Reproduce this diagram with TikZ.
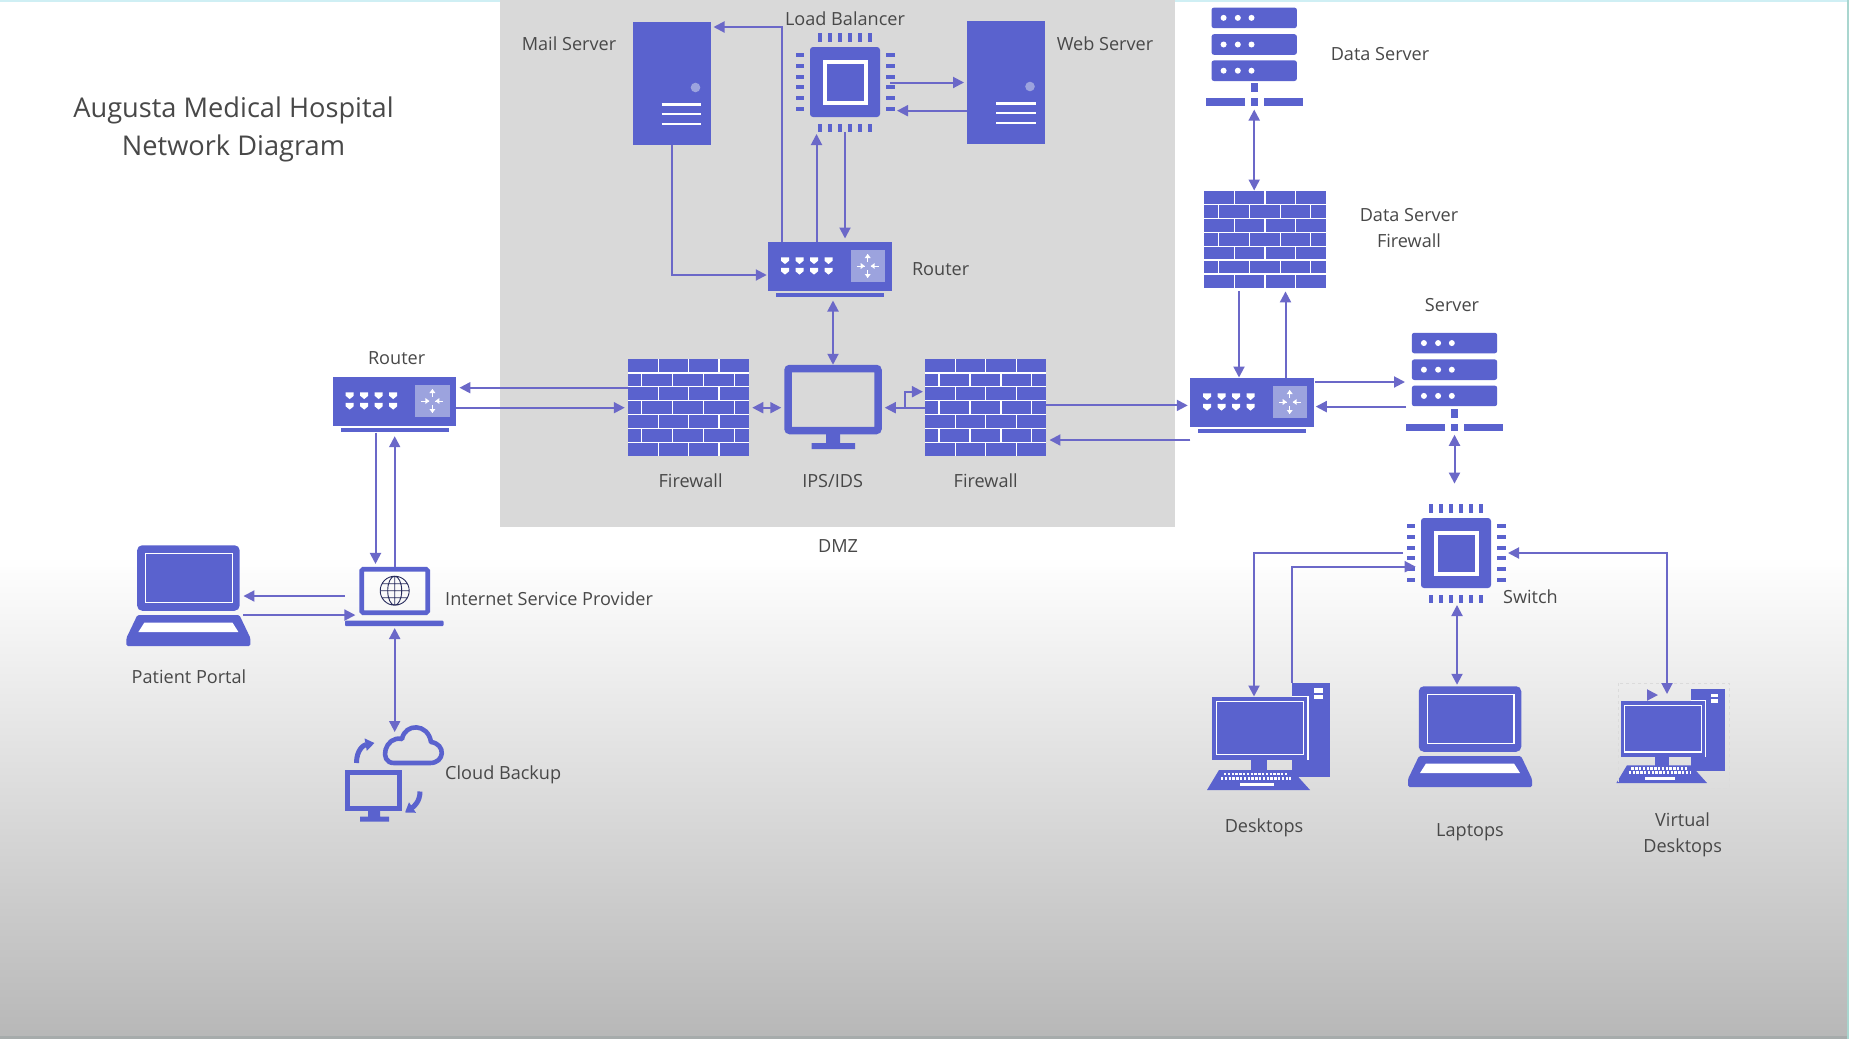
\documentclass[tikz,border=0pt]{standalone}
\usepackage{fontspec}
\setmainfont{Open Sans}
\usetikzlibrary{arrows.meta}
\definecolor{iconblue}{HTML}{5A62CE}
\definecolor{linkblue}{HTML}{6B68C8}
\definecolor{panelblue}{HTML}{9CA3DE}
\definecolor{dmzgrey}{HTML}{D9D9D9}
\definecolor{labelgrey}{HTML}{484848}
\definecolor{edgeblue}{HTML}{CFEFF4}
\definecolor{edgeteal}{HTML}{A9D6CF}
\definecolor{footgrey}{HTML}{A6ABAB}
\tikzset{
  x=1pt,y=-1pt,
  iconbox/.style={fill=iconblue,draw=none,inner sep=0pt,outer sep=0pt},
  ghostbox/.style={draw=none,fill=none,inner sep=0pt,outer sep=0pt},
  lbl/.style={text=labelgrey,inner sep=0pt,align=center,font=\fontsize{18.1}{25.5}\selectfont},
  titlelbl/.style={text=labelgrey,inner sep=0pt,align=center,font=\fontsize{27.2}{37.5}\selectfont},
  link/.style={draw=linkblue,line width=2pt,-{Triangle[length=11pt,width=11pt]}},
  linkboth/.style={draw=linkblue,line width=2pt,{Triangle[length=11pt,width=11pt]}-{Triangle[length=11pt,width=11pt]}},
  thinwhite/.style={draw=white,line width=1.2pt},
}
\newcommand\towerserver[3]{%
  \node[iconbox,minimum width=78pt,minimum height=123pt] (#1) at (#2,#3) {};
  \begin{scope}[shift={(#2,#3)}]
    \fill[panelblue] (24,4) circle (4.8);
    \foreach \yy in {21,30.5,40.5} \draw[draw=white,line width=2.6pt] (-10,\yy) -- (29.5,\yy);
  \end{scope}}
\newcommand\firewallicon[3]{%
  \node[iconbox,minimum width=121.5pt,minimum height=97.4pt] (#1) at (#2,#3) {};
  \begin{scope}[shift={(#2,#3)}]
    \foreach \i in {1,...,6} \draw[thinwhite] (-60.75,{-48.7+\i*13.91}) -- (60.75,{-48.7+\i*13.91});
    \foreach \i in {0,2,4,6} \foreach \xx in {-30.4,0,30.4}
      \draw[thinwhite] (\xx,{-48.7+\i*13.91}) -- (\xx,{-48.7+(\i+1)*13.91});
    \foreach \i in {1,3,5} \foreach \xx in {-46.8,-15.8,15.2,45.6}
      \draw[thinwhite] (\xx,{-48.7+\i*13.91}) -- (\xx,{-48.7+(\i+1)*13.91});
  \end{scope}}
\newcommand\routericon[3]{%
  \node[iconbox,minimum width=123.5pt,minimum height=49pt] (#1) at (#2,#3) {};
  \begin{scope}[shift={(#2,#3)}]
    \fill[iconblue] (-54,27) rectangle (54,31);
    \fill[panelblue] (20.5,-16) rectangle (55,16);
    \foreach \xx in {-45,-30.5,-16,-1.5} \foreach \yy in {-5.5,5}
      \fill[white] (\xx-4,\yy-3.2) -- (\xx+4,\yy-3.2) -- (\xx+4,\yy+.3) -- (\xx,\yy+3.6) -- (\xx-4,\yy+.3) -- cycle;
    \begin{scope}[shift={(37.7,0)}]
      \draw[white,line width=.9pt] (-3,0) -- (-11,0) (3,0) -- (11,0) (0,-4) -- (0,-12) (0,4) -- (0,12);
      \fill[white] (-3,0) -- (-7,-3) -- (-7,3) -- cycle (3,0) -- (7,-3) -- (7,3) -- cycle
        (0,-12) -- (-3,-8) -- (3,-8) -- cycle (0,12) -- (-3,8) -- (3,8) -- cycle;
    \end{scope}
  \end{scope}}
\newcommand\chipicon[3]{%
  \node[iconbox,minimum width=70pt,minimum height=70pt,rounded corners=3pt] (#1) at (#2,#3) {};
  \begin{scope}[shift={(#2,#3)}]
    \draw[draw=white,line width=4pt] (-20.5,-20.5) rectangle (20.5,20.5);
    \foreach \p in {-25,-15,-5,5,15,25} {
      \fill[iconblue] (\p-2,-49) rectangle (\p+2,-40);
      \fill[iconblue] (\p-2,42) rectangle (\p+2,50);
      \fill[iconblue] (-49,\p*1.08-2) rectangle (-41,\p*1.08+2);
      \fill[iconblue] (41,\p*1.08-2) rectangle (49.5,\p*1.08+2);
    }
  \end{scope}}
\newcommand\rackicon[3]{%
  \node[ghostbox,minimum width=97pt,minimum height=98.5pt] (#1) at (#2,#3) {};
  \begin{scope}[shift={(#2,#3)}]
    \foreach \yy in {-49.25,-22.6,3.6} {
      \fill[iconblue,rounded corners=2.5pt] (-42.7,\yy) rectangle (42.7,\yy+20.6);
      \foreach \xx in {-30.6,-16.4,-2.7} \fill[white] (\xx,\yy+10.3) circle (3);
    }
    \fill[iconblue] (-3.5,26.5) rectangle (3.5,35.5);
    \fill[iconblue] (-48.5,41.5) rectangle (-9.7,49.25);
    \fill[iconblue] (9.7,41.5) rectangle (48.5,49.25);
    \fill[iconblue] (-3.5,41.5) rectangle (3.5,49.25);
  \end{scope}}
\newcommand\laptopicon[3]{%
  \node[iconbox,minimum width=102.5pt,minimum height=65.5pt,rounded corners=5pt] (#1) at (#2,#3) {};
  \begin{scope}[shift={(#2,#3)}]
    \draw[thinwhite] (-42.7,-24.6) rectangle (44,24.6);
    \fill[iconblue,rounded corners=1.5pt] (-51,37) -- (51,37) -- (62,60) -- (62,68) -- (-62,68) -- (-62,60) -- cycle;
    \fill[white] (-44,44.5) -- (44,44.5) -- (50,54) -- (-50,54) -- cycle;
  \end{scope}}
\newcommand\desktopicon[6]{%
  \begin{scope}[shift={(#3,#4)},scale=#5,transform shape]
    \node[iconbox,minimum width=38.4pt,minimum height=94pt] (#2) at (50.8,1.4) {};
    \fill[white] (54,-40) rectangle (63,-35.5);
    \fill[white] (54,-33.5) rectangle (63,-29);
    \node[iconbox,minimum width=96pt,minimum height=63.6pt] (#1) at (0,0) {};
    \draw[thinwhite] (-43.6,-26.5) rectangle (43.4,26.5);
    \draw[thinwhite] (31.6,-31.8) -- (48,-31.8) -- (48,31.8);
    \fill[iconblue] (-9,31.8) rectangle (6.6,42);
    \fill[iconblue] (-41,41.7) -- (32,41.7) -- (50,61.7) -- (-53,61.7) -- cycle;
    \foreach \yy/\aa/\bb in {45.5/-36/27,50/-39/31} \draw[white,line width=2.6pt,dash pattern=on 2.4pt off 1.4pt] (\aa,\yy) -- (\bb,\yy);
    \fill[white] (-20,54.5) rectangle (14,58);
  \end{scope}}
\begin{document}
\begin{tikzpicture}
\useasboundingbox (0,0) rectangle (1849,1039);
\fill[white] (0,0) rectangle (1849,1039);
\shade[top color=white,bottom color=black!28] (0,556) rectangle (1849,1036);
\fill[footgrey] (0,1036) rectangle (1849,1039);
\fill[edgeblue] (0,0) rectangle (1849,2);
\fill[edgeteal] (1846.5,0) rectangle (1849,1039);
\fill[dmzgrey] (500,0) rectangle (1175,527);

% titles and labels
\node[titlelbl] (title) at (233.5,129.5) {Augusta Medical Hospital\\[0pt]Network Diagram};
\node[lbl] (lmail) at (569,43.6) {Mail Server};
\node[lbl] (lweb) at (1105,43.6) {Web Server};
\node[lbl] (llb) at (845,18.6) {Load Balancer};
\node[lbl] (ldr) at (940.6,269.6) {Router};
\node[lbl] (lfwl) at (690.6,481) {Firewall};
\node[lbl] (lips) at (832.6,480.6) {IPS/IDS};
\node[lbl] (lfwr) at (985.7,481) {Firewall};
\node[lbl] (ldmz) at (838,546) {DMZ};
\node[lbl] (ldsrv) at (1380,54) {Data Server};
\node[lbl] (ldfw) at (1409,228) {Data Server\\Firewall};
\node[lbl] (lsrv) at (1452,305.5) {Server};
\node[lbl] (lsw) at (1530.4,597) {Switch};
\node[lbl] (ldesk) at (1264,828) {Desktops};
\node[lbl] (llap) at (1470,832.5) {Laptops};
\node[lbl] (lvd) at (1682.6,835) {Virtual\\Desktops};
\node[lbl] (lr1) at (396.6,358.3) {Router};
\node[lbl,anchor=west] (lisp) at (445,598.5) {Internet Service Provider};
\node[lbl] (lportal) at (189,676.7) {Patient Portal};
\node[lbl,anchor=west] (lcloud) at (445,775) {Cloud Backup};

% icons
\towerserver{mail}{671.5}{83.5}
\towerserver{web}{1006}{82.5}
\chipicon{lb}{845}{82}
\routericon{dr}{830}{266}
\firewallicon{fwl}{688.5}{407.7}
\firewallicon{fwr}{985.7}{407.7}
\node[ghostbox,draw=iconblue,line width=7.5pt,rounded corners=2pt,minimum width=90pt,minimum height=62pt,outer sep=3.75pt] (ips) at (833,399.5) {};
\fill[iconblue] (826,434) rectangle (840,444) (811.6,443) rectangle (855,449);

\rackicon{dsrv}{1254.2}{56.8}
\firewallicon{dfw}{1265}{239.2}
\routericon{rtwo}{1252}{402}
\rackicon{srv}{1454.5}{382}
\chipicon{sw}{1456}{553}

\desktopicon{desk}{tower}{1260}{728.3}{1}{}
\laptopicon{lap}{1470}{719}
\desktopicon{vd}{vtower}{1663}{728.7}{0.88}{}
\draw[black!14,line width=.7pt,dash pattern=on 3pt off 3pt] (1618.6,683) rectangle (1729,788);

\routericon{rone}{394.7}{401}
\node[ghostbox,draw=iconblue,line width=4.6pt,rounded corners=1.5pt,minimum width=66pt,minimum height=43.5pt,outer sep=2.3pt] (isp) at (394.7,591) {};
\fill[iconblue,rounded corners=1pt] (345,620.7) rectangle (443.7,626);
\begin{scope}[shift={(394.7,590.7)}]
  \draw[draw=black!55!iconblue,line width=.9pt] (0,0) circle (14.5) (0,0) ellipse (7 and 14.5) (0,-14.5) -- (0,14.5) (-14.5,0) -- (14.5,0) (-12.5,-7) -- (12.5,-7) (-12.5,7) -- (12.5,7);
\end{scope}
\laptopicon{portal}{188.4}{578}
\node[ghostbox,minimum width=62pt,minimum height=38pt] (cloud) at (412.8,746) {};
\draw[iconblue,line width=4.6pt,line join=round] (394,763) -- (430,763) .. controls (445,763) and (446,744) .. (431,742) .. controls (428,723) and (405,723) .. (402,739) .. controls (385,735) and (378,763) .. (394,763) -- cycle;
\node[ghostbox,draw=iconblue,line width=5pt,minimum width=52pt,minimum height=36pt,outer sep=2.5pt] (bkmon) at (373.5,790.5) {};
\fill[iconblue] (368,810) rectangle (380,818) (360,816.7) rectangle (389,821.7);
\draw[draw=iconblue,line width=5pt,-{Triangle[length=9pt,width=12pt]}] ([xshift=-17pt,yshift=7pt]bkmon.north) .. controls ([xshift=-17pt,yshift=20pt]bkmon.north) and ([xshift=-10pt,yshift=25pt]bkmon.north) .. ([xshift=1pt,yshift=27pt]bkmon.north);
\draw[draw=iconblue,line width=5pt,-{Triangle[length=9pt,width=12pt]}] ([xshift=18pt,yshift=-1pt]bkmon.east) .. controls ([xshift=18pt,yshift=-11pt]bkmon.east) and ([xshift=12pt,yshift=-16pt]bkmon.east) .. ([xshift=3pt,yshift=-22pt]bkmon.east);

% connectors in the DMZ
\draw[link] ([xshift=10pt,yshift=-.5pt]lb.east) -- ([xshift=-3pt]web.west);
\draw[link] ([yshift=-28.2pt]web.west) -- ([xshift=17pt,yshift=-28.7pt]lb.east);
\draw[link] ([xshift=-48pt]dr.north) |- ([xshift=3pt,yshift=56.5pt]mail.east);
\draw[link] ([xshift=-13.5pt]dr.north) -- ([xshift=-28.5pt,yshift=-17pt]lb.south);
\draw[link] ([yshift=-15pt]lb.south) -- ([xshift=15pt,yshift=3pt]dr.north);
\draw[link] (mail.south) |- ([xshift=-1.5pt,yshift=-9pt]dr.west);
\draw[linkboth] ([xshift=3pt,yshift=-10pt]dr.south) -- (ips.north);
\draw[linkboth] ([xshift=3pt]fwl.east) -- ([xshift=-3pt,yshift=-8.2pt]ips.west);
\draw[link] (fwr.west) -- ([xshift=3pt,yshift=-8.2pt]ips.east);
\draw[link] ([xshift=-20pt]fwr.west) |- ([xshift=-2pt,yshift=16pt]fwr.west);

% connectors across the DMZ border
\draw[link] ([yshift=2.3pt]fwr.east) -- ([xshift=-2.5pt,yshift=-3.4pt]rtwo.west);
\draw[link] ([yshift=-13.5pt]rtwo.south west) -- ([xshift=3pt,yshift=-32.3pt]fwr.east);
\draw[link] ([yshift=20pt]fwl.west) -- ([xshift=3pt,yshift=13.3pt]rone.east);
\draw[link] ([yshift=-6.7pt]rone.east) -- ([xshift=-3pt]fwl.west);

% connectors on the left
\draw[link] ([xshift=-19.2pt,yshift=-7pt]rone.south) -- ([xshift=-19.2pt,yshift=3pt]isp.north);
\draw[link] (isp.north) -- ([yshift=-10.7pt]rone.south);
\draw[link] ([xshift=-14.5pt,yshift=-5pt]isp.west) -- ([xshift=3.8pt,yshift=-18pt]portal.east);
\draw[link] ([xshift=3.8pt,yshift=-4.3pt]portal.south east) -- ([xshift=-4pt]isp.south west);
\draw[linkboth] ([yshift=-13pt]isp.south) -- ([xshift=-18.1pt,yshift=-5pt]cloud.north);

% connectors on the right
\draw[linkboth] ([yshift=-3.5pt]dsrv.south) -- ([xshift=-10.8pt]dfw.north);
\draw[link] ([xshift=-26pt,yshift=-3.5pt]dfw.south) -- ([xshift=-13pt]rtwo.north);
\draw[link] ([xshift=33.5pt]rtwo.north) -- ([xshift=20.5pt,yshift=-3.5pt]dfw.south);
\draw[link] ([xshift=1pt,yshift=20pt]rtwo.east) -- ([xshift=-1pt]srv.west);
\draw[link] ([yshift=-24.6pt]srv.west) -- ([xshift=2pt,yshift=-4.6pt]rtwo.east);
\draw[linkboth] ([yshift=-3.5pt]srv.south) -- ([xshift=-1.5pt,yshift=34.4pt]sw.north);
\draw[link] ([xshift=-18pt]sw.west) -| ([xshift=-6pt]desk.north);
\draw[link] (tower.north west) |- ([xshift=-5.3pt,yshift=-13.7pt]sw.west);
\draw[linkboth] ([xshift=1pt,yshift=-17pt]sw.south) -- ([xshift=-13pt,yshift=1.5pt]lap.north);
\draw[linkboth] ([xshift=17pt]sw.east) -| ([xshift=4pt,yshift=6.7pt]vd.north);
\draw[link] ([xshift=-15pt,yshift=5.7pt]vd.north) -- ([xshift=-5pt,yshift=5.7pt]vd.north);
\end{tikzpicture}
\end{document}
